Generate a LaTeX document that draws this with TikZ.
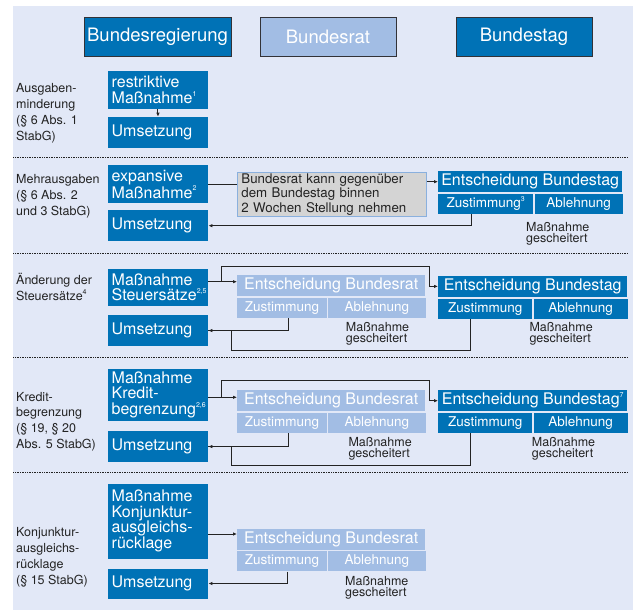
\documentclass[tikz,border=0pt]{standalone}
\usepackage{fontspec}
\setmainfont{TeX Gyre Heros}
\usepackage{tikz}
\usetikzlibrary{arrows.meta,positioning}

\definecolor{dunkelblau}{RGB}{0,114,182}
\definecolor{hellblau}{RGB}{162,189,228}
\definecolor{hintergrund}{RGB}{226,232,247}
\definecolor{grau}{RGB}{212,212,212}
\definecolor{graurand}{RGB}{138,176,222}
\definecolor{schrift}{RGB}{35,35,35}
\definecolor{kopfrand}{RGB}{50,50,55}

\newcommand{\hoch}[1]{\raisebox{0.45em}{\fontsize{7}{7}\selectfont #1}}

\begin{document}
\begin{tikzpicture}[
    x=1pt, y=-1pt,
    kopf/.style={draw=kopfrand, line width=0.8pt, fill=dunkelblau, text=white, minimum width=136pt,
                 minimum height=39pt, inner sep=0pt, font=\fontsize{18.5}{20}\selectfont},
    massn/.style={fill=dunkelblau, text=white, anchor=north west, minimum width=100.5pt,
                  text width=92.5pt, inner xsep=4pt, inner ysep=0pt, align=left,
                  font=\fontsize{16}{15.5}\selectfont},
    entsch/.style={anchor=north west, text=white, inner sep=0pt, minimum height=21pt,
                   font=\fontsize{16}{16}\selectfont},
    zelle/.style={text=white, inner sep=0pt, minimum height=20pt, font=\fontsize{13.5}{14}\selectfont},
    ratbox/.style={fill=hellblau},
    tagbox/.style={fill=dunkelblau},
    abschn/.style={anchor=north west, inner sep=0pt, align=left, text=schrift,
                   font=\fontsize{12.5}{15.8}\selectfont},
    gesch/.style={anchor=north west, inner sep=0pt, align=left, text=schrift,
                  font=\fontsize{12.5}{11.5}\selectfont},
    pfeil/.style={draw=schrift, line width=1pt, -{Latex[length=4pt,width=3.5pt]}},
    verb/.style={draw=schrift, line width=1pt},
    trenn/.style={draw=schrift, line width=0.8pt, dash pattern=on 0.8pt off 0.9pt}
]
\useasboundingbox (0,0) rectangle (633,610);
\fill[hintergrund] (13.3,6) rectangle (633,610);

% Kopfzeile
\node[kopf, minimum width=147pt] (regierung) at (157.5,36.5) {Bundesregierung};
\node[kopf, fill=hellblau] (bundesrat) at (328,36.5) {Bundesrat};
\node[kopf] (bundestag) at (524,36.5) {Bundestag};

% Trennlinien
\foreach \ty in {157,253.5,357.5,472.5}
    \draw[trenn] (13.3,\ty) -- (628,\ty);

% Ausgabenminderung
\node[abschn] (lab1) at (16,83.3) {Ausgaben-\\minderung\\(§ 6 Abs. 1\\StabG)};
\node[massn, minimum height=38pt] (mass1) at (107.5,70.7) {restriktive\\Maßnahme\hoch{1}};
\node[massn, minimum height=31pt] (ums1) at (107.5,116.7) {Umsetzung};
\draw[pfeil] (mass1) -- (ums1);

% Mehrausgaben
\node[abschn] (lab2) at (16,174.3) {Mehrausgaben\\(§ 6 Abs. 2\\und 3 StabG)};
\node[massn, minimum height=38pt] (mass2) at (107.5,165) {expansive\\Maßnahme\hoch{2}};
\node[massn, minimum height=31pt] (ums2) at (107.5,210) {Umsetzung};
\node[anchor=north west, fill=grau, draw=graurand, line width=0.8pt, minimum width=189pt,
      minimum height=44pt, text width=181pt, inner xsep=4pt, inner ysep=0pt, align=left,
      text=schrift, font=\fontsize{13.3}{14.5}\selectfont] (stell) at (237,172)
      {Bundesrat kann gegenüber\\dem Bundestag binnen\\2 Wochen Stellung nehmen};
\node[entsch, tagbox, minimum width=184pt] (tag2) at (438,171) {Entscheidung Bundestag};
\node[zelle, tagbox, anchor=north west, minimum width=95pt] (tagz2) at ([yshift=-1pt]tag2.south west) {Zustimmung\hoch{3}};
\node[zelle, tagbox, minimum width=88pt, right=1pt of tagz2] (taga2) {Ablehnung};
\node[gesch] (gs2) at (526,222) {Maßnahme\\gescheitert};
\draw[verb] (mass2.east) -- (mass2.east -| stell.west);
\draw[pfeil] (stell.east |- tag2.west) -- (tag2.west);
\draw[pfeil] ([xshift=-14.5pt]tagz2.south) |- (ums2.east);

% Steuersaetze
\node[abschn] (lab3) at (16,273.3) {Änderung der\\Steuersätze\hoch{4}};
\node[massn, minimum height=37.4pt] (mass3) at (107.5,268.3) {Maßnahme\\Steuersätze\hoch{2,5}};
\node[massn, minimum height=30.7pt] (ums3) at (107.5,315) {Umsetzung};
\node[entsch, ratbox, minimum width=188pt] (rat3) at (237,275) {Entscheidung Bundesrat};
\node[zelle, ratbox, anchor=north west, minimum width=89.5pt] (ratz3) at ([yshift=-1.5pt]rat3.south west) {Zustimmung};
\node[zelle, ratbox, minimum width=97.5pt, right=1pt of ratz3] (rata3) {Ablehnung};
\node[entsch, tagbox, minimum width=189pt] (tag3) at (438,275.7) {Entscheidung Bundestag};
\node[zelle, tagbox, anchor=north west, minimum width=94pt] (tagz3) at ([yshift=-1.5pt]tag3.south west) {Zustimmung};
\node[zelle, tagbox, minimum width=94pt, right=1pt of tagz3] (taga3) {Ablehnung};
\node[gesch] (gsr3) at (345.7,322) {Maßnahme\\gescheitert};
\node[gesch] (gst3) at (529.3,322) {Maßnahme\\gescheitert};
\coordinate (ab3) at (221,281.7);
\coordinate (ob3) at (429.3,266.7);
\coordinate (un3) at (231,350);
\draw[verb] (mass3.east |- ab3) -- (ab3);
\draw[pfeil] (ab3) -- (ab3 -| rat3.west);
\draw[pfeil] (ab3) |- (ob3) |- (tag3.west);
\draw[pfeil] ([xshift=6.7pt]ratz3.south) |- (ums3.east);
\draw[verb] ([xshift=-15pt]tagz3.south) |- (un3) |- (ums3.east);

% Kreditbegrenzung
\node[abschn] (lab4) at (16,391.7) {Kredit-\\begrenzung\\(§ 19, § 20\\Abs. 5 StabG)};
\node[massn, minimum height=52.4pt] (mass4) at (107.5,368.3) {Maßnahme\\Kredit-\\begrenzung\hoch{2,6}};
\node[massn, minimum height=30.7pt] (ums4) at (107.5,431) {Umsetzung};
\node[entsch, ratbox, minimum width=188pt] (rat4) at (237,390) {Entscheidung Bundesrat};
\node[zelle, ratbox, anchor=north west, minimum width=89.5pt] (ratz4) at ([yshift=-1.5pt]rat4.south west) {Zustimmung};
\node[zelle, ratbox, minimum width=97.5pt, right=1pt of ratz4] (rata4) {Ablehnung};
\node[entsch, tagbox, minimum width=189pt] (tag4) at (438,390) {Entscheidung Bundestag\hoch{7}};
\node[zelle, tagbox, anchor=north west, minimum width=94pt] (tagz4) at ([yshift=-1.5pt]tag4.south west) {Zustimmung};
\node[zelle, tagbox, minimum width=94pt, right=1pt of tagz4] (taga4) {Ablehnung};
\node[gesch] (gsr4) at (348.3,437) {Maßnahme\\gescheitert};
\node[gesch] (gst4) at (531.7,437) {Maßnahme\\gescheitert};
\coordinate (ab4) at (221,397.3);
\coordinate (ob4) at (429.3,380.7);
\coordinate (un4) at (231,465);
\draw[verb] (mass4.east |- ab4) -- (ab4);
\draw[pfeil] (ab4) -- (ab4 -| rat4.west);
\draw[pfeil] (ab4) |- (ob4) |- (tag4.west);
\draw[pfeil] ([xshift=6.7pt]ratz4.south) |- (ums4.east);
\draw[verb] ([xshift=-15pt]tagz4.south) |- (un4) |- (ums4.east);

% Konjunkturausgleichsruecklage
\node[abschn] (lab5) at (16,527.3) {Konjunktur-\\ausgleichs-\\rücklage\\(§ 15 StabG)};
\node[massn, minimum height=75pt] (mass5) at (107.5,483.3) {Maßnahme\\Konjunktur-\\ausgleichs-\\rücklage};
\node[massn, minimum height=30pt] (ums5) at (107.5,568.3) {Umsetzung};
\node[entsch, ratbox, minimum width=188pt] (rat5) at (237,528.3) {Entscheidung Bundesrat};
\node[zelle, ratbox, anchor=north west, minimum width=89.5pt] (ratz5) at ([yshift=-1.5pt]rat5.south west) {Zustimmung};
\node[zelle, ratbox, minimum width=97.5pt, right=1pt of ratz5] (rata5) {Ablehnung};
\node[gesch] (gs5) at (345,576) {Maßnahme\\gescheitert};
\coordinate (ab5) at (221,534);
\draw[pfeil] (mass5.east |- ab5) -- (ab5 -| rat5.west);
\draw[pfeil] ([xshift=5.5pt]ratz5.south) |- (ums5.east);

\end{tikzpicture}
\end{document}
